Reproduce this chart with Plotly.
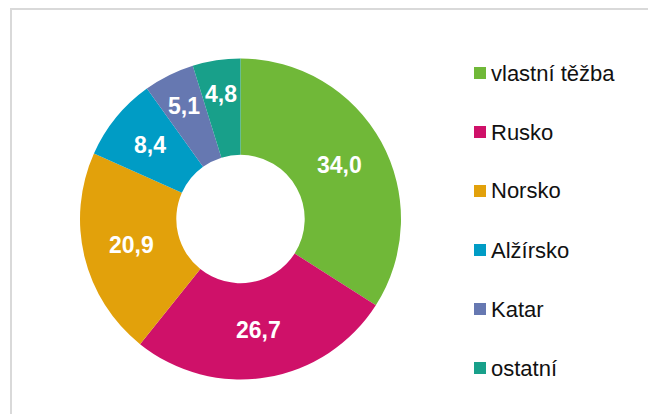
import math
import plotly.graph_objects as go

# shares of gas supply, %
labels = ["vlastní těžba", "Rusko", "Norsko", "Alžírsko", "Katar", "ostatní"]
values = [34.0, 26.7, 20.9, 8.4, 5.1, 4.8]
colors = ["#70B838", "#CF1169", "#E2A10B", "#009CC5", "#6678B1", "#18A08A"]

# the page body has an 8px margin, so the figure is laid out in page pixels minus 8
OFF = 8
W, H = 656, 414

def px_x(x):
    return (x - OFF) / W

def px_y(y):
    return 1 - (y - OFF) / H

# pie box in page pixels
pie_l, pie_r, pie_t, pie_b = 80, 401, 58, 380
hole = 0.4

fig = go.Figure()

fig.add_trace(
    go.Pie(
        labels=labels,
        values=values,
        hole=hole,
        sort=False,
        direction="clockwise",
        rotation=0,
        marker=dict(colors=colors, line=dict(color="white", width=0)),
        textinfo="none",
        showlegend=False,
        domain=dict(x=[px_x(pie_l), px_x(pie_r)], y=[px_y(pie_b), px_y(pie_t)]),
        hovertemplate="%{label}: %{value:.1f} %<extra></extra>",
    )
)

# value labels: placed mid-ring, pushed outwards a bit on narrow slices
cx, cy = (pie_l + pie_r) / 2, (pie_t + pie_b) / 2
R = min(pie_r - pie_l, pie_b - pie_t) / 2
r_mid = R * (1 + hole) / 2
total = sum(values)
cum = 0
for v in values:
    ang = 2 * math.pi * (cum + v / 2) / total
    cum += v
    r = r_mid + max(0, 10 - v) * 2.8
    fig.add_annotation(
        x=px_x(cx + r * math.sin(ang)), y=px_y(cy - r * math.cos(ang)),
        xref="paper", yref="paper", showarrow=False,
        xanchor="center", yanchor="middle",
        text=f"{v:.1f}".replace(".", ","),
        font=dict(family="Liberation Sans, Arial", size=23, color="white", weight="bold"),
    )

# hand-made legend so the items can be spaced like the original
legend_top = 73
legend_step = 59
for i, (lab, col) in enumerate(zip(labels, colors)):
    yc = legend_top + i * legend_step
    fig.add_shape(
        type="rect", xref="paper", yref="paper",
        x0=px_x(474), x1=px_x(486), y0=px_y(yc + 6), y1=px_y(yc - 6),
        fillcolor=col, line=dict(width=0),
    )
    fig.add_annotation(
        x=px_x(489), y=px_y(yc), xref="paper", yref="paper",
        xanchor="left", yanchor="middle", showarrow=False,
        text=lab, font=dict(family="Liberation Sans, Arial", size=22, color="#111111"),
    )

# light frame around the chart area
fig.add_shape(
    type="rect", xref="paper", yref="paper",
    x0=px_x(11), x1=1.2, y0=-0.2, y1=px_y(9),
    line=dict(color="#D9D9D9", width=2), fillcolor="rgba(0,0,0,0)",
)

fig.update_layout(
    width=W,
    height=H,
    margin=dict(l=0, r=0, t=0, b=0),
    paper_bgcolor="white",
    plot_bgcolor="white",
    font=dict(family="Liberation Sans, Arial"),
)

fig.write_html("out.html")
